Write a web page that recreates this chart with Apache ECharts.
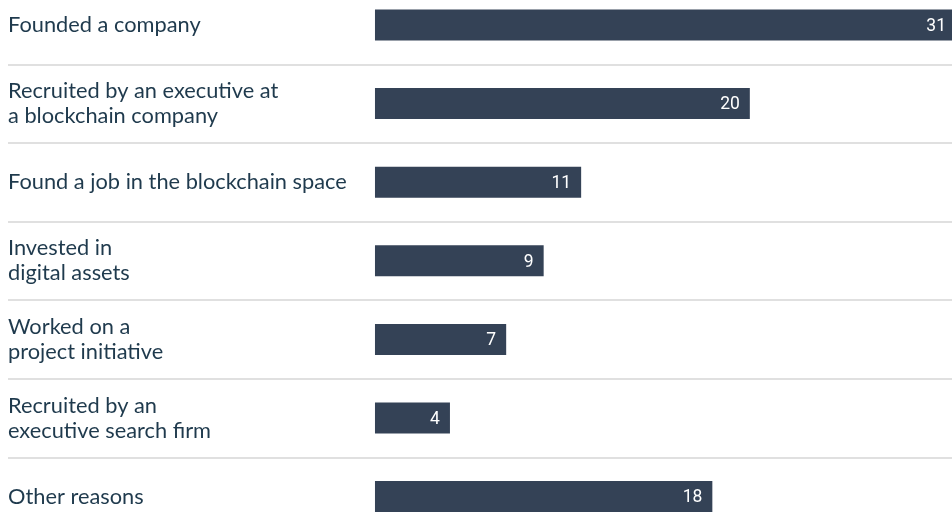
<!DOCTYPE html>
<html>
<head>
<meta charset="utf-8">
<style>
  html, body { margin: 0; padding: 0; background: #ffffff; }
  #chart { width: 952px; height: 527px; }
</style>
<script src="https://cdn.jsdelivr.net/npm/echarts@6/dist/echarts.min.js"></script>
</head>
<body>
<div id="chart"></div>
<script>
// Reasons for entering the blockchain space (count of respondents)
const categories = [
  'Founded a company',
  'Recruited by an executive at\na blockchain company',
  'Found a job in the blockchain space',
  'Invested in\ndigital assets',
  'Worked on a\nproject initiative',
  'Recruited by an\nexecutive search firm',
  'Other reasons'
];
const values = [31, 20, 11, 9, 7, 4, 18];

const chart = echarts.init(document.getElementById('chart'), null, { renderer: 'canvas' });

chart.setOption({
  animation: false,
  // the plot area runs a little past the canvas so the first and last rows sit near the edges
  grid: {
    left: 8, width: 948, top: -14.3, height: 550.2,
    containLabel: false,
    outerBoundsMode: 'none'
  },
  xAxis: {
    type: 'value',
    // negative room on the left leaves space for the category text; bars grow from 0
    min: -19.58,
    max: 31,
    show: false
  },
  yAxis: {
    type: 'category',
    inverse: true,
    data: categories,
    axisLine: { show: false },
    axisTick: { show: false },
    splitLine: { show: true, lineStyle: { color: '#d6d6d6', width: 1.5 } },
    axisLabel: {
      inside: true,
      margin: 0,
      align: 'left',
      verticalAlign: 'middle',
      color: '#1f3a4d',
      fontFamily: 'Lato',
      fontSize: 21.8,
      lineHeight: 25
    }
  },
  series: [{
    type: 'bar',
    data: values,
    barWidth: 31,
    itemStyle: { color: '#344256' },
    label: {
      show: true,
      position: 'insideRight',
      distance: 10,
      offset: [0, 1.5],
      color: '#ffffff',
      fontFamily: 'Roboto',
      fontSize: 17.5
    }
  }]
});
</script>
</body>
</html>
